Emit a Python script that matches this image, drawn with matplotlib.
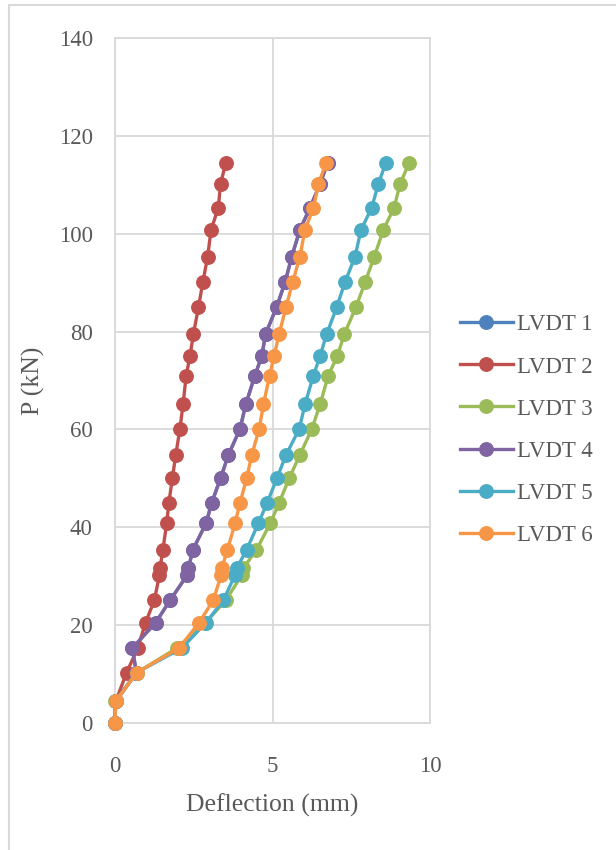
import matplotlib
matplotlib.use("Agg")
import matplotlib.pyplot as plt
from matplotlib.patches import Rectangle

load_kN = [0, 4.4, 10.3, 15.3, 20.5, 25.1, 30.2, 31.6, 35.4, 40.8, 45.0, 50.0, 54.8,
           60.1, 65.1, 71.0, 75.0, 79.5, 85.0, 90.1, 95.3, 100.8, 105.3, 110.2, 114.5]

lvdt1 = [0, 0.02, 0.68, 0.55, 1.29, 1.75, 2.29, 2.33, 2.47, 2.89, 3.07, 3.35, 3.60,
         3.97, 4.15, 4.44, 4.66, 4.78, 5.13, 5.40, 5.61, 5.87, 6.19, 6.51, 6.75]
lvdt2 = [0, 0.02, 0.37, 0.72, 0.97, 1.25, 1.41, 1.43, 1.52, 1.64, 1.71, 1.82, 1.93,
         2.06, 2.16, 2.26, 2.38, 2.49, 2.65, 2.79, 2.94, 3.05, 3.28, 3.35, 3.52]
lvdt3 = [0, 0.0, 0.69, 1.96, 2.87, 3.52, 4.02, 4.07, 4.49, 4.93, 5.21, 5.53, 5.87,
         6.25, 6.51, 6.77, 7.06, 7.28, 7.65, 7.94, 8.23, 8.52, 8.86, 9.05, 9.34]
lvdt4 = [0, 0.02, 0.68, 0.55, 1.29, 1.75, 2.29, 2.33, 2.47, 2.89, 3.07, 3.35, 3.60,
         3.97, 4.15, 4.44, 4.66, 4.78, 5.13, 5.40, 5.61, 5.87, 6.19, 6.51, 6.75]
lvdt5 = [0, 0.02, 0.69, 2.12, 2.89, 3.44, 3.81, 3.86, 4.18, 4.55, 4.83, 5.14, 5.43,
         5.85, 6.03, 6.30, 6.51, 6.72, 7.04, 7.30, 7.62, 7.81, 8.15, 8.36, 8.60]
lvdt6 = [0, 0.02, 0.69, 2.03, 2.67, 3.12, 3.37, 3.39, 3.57, 3.81, 3.97, 4.18, 4.34,
         4.58, 4.71, 4.91, 5.05, 5.21, 5.43, 5.64, 5.87, 6.03, 6.30, 6.46, 6.70]

series_names = ["LVDT 1", "LVDT 2", "LVDT 3", "LVDT 4", "LVDT 5", "LVDT 6"]
series_vals = [lvdt1, lvdt2, lvdt3, lvdt4, lvdt5, lvdt6]
colors = ["#4F81BD", "#C0504D", "#9BBB59", "#8064A2", "#4BACC6", "#F79646"]

x_ticks = [0, 5, 10]
y_ticks = [0, 20, 40, 60, 80, 100, 120, 140]

plt.rcParams['font.family'] = ['Liberation Serif', 'DejaVu Serif']
txt = "#595959"
grid_c = "#D9D9D9"
fs = 16.5
fs_title = 18.5

fig = plt.figure(figsize=(6.16, 8.5), dpi=100)
W, H = 616, 850
ax = fig.add_axes([115 / W, 1 - 723 / H, (430 - 115) / W, (723 - 38) / H])

for i, (name, vals, c) in enumerate(zip(series_names, series_vals, colors)):
    ax.plot(vals, load_kN, color=c, lw=2.4, marker='o', ms=9.7,
            markerfacecolor=c, markeredgecolor=c, label=name,
            clip_on=False, zorder=3 + i)

ax.set_xlim(0, 10)
ax.set_ylim(0, 140)
ax.set_xticks(x_ticks)
ax.set_yticks(y_ticks)
ax.grid(True, color=grid_c, lw=1.3)
ax.set_axisbelow(True)
for s in ax.spines.values():
    s.set_color(grid_c)
    s.set_linewidth(1.3)
ax.tick_params(length=0, labelsize=fs, colors=txt)
ax.tick_params(axis='y', pad=16)
ax.tick_params(axis='x', pad=24)
ax.set_xlabel("Deflection (mm)", fontsize=fs_title, color=txt)
ax.set_ylabel("P (kN)", fontsize=fs_title, color=txt)
ax.xaxis.set_label_coords(0.5, -(805 - 723) / (723 - 38), transform=ax.transAxes)
ax.yaxis.set_label_coords(-(115 - 33) / (430 - 115), 0.5, transform=ax.transAxes)
ax.xaxis.label.set_va('center')
ax.yaxis.label.set_va('center')

leg = ax.legend(loc='center left', bbox_to_anchor=(460 / W, 1 - 430 / H),
                bbox_transform=fig.transFigure, frameon=False, fontsize=fs,
                handlelength=2.3, handletextpad=0.2, labelspacing=0.915,
                borderpad=0, borderaxespad=0)
for t in leg.get_texts():
    t.set_color(txt)

fig.patches.append(Rectangle((9 / W, -0.1), 2, 1.1 - 4.5 / H,
                             transform=fig.transFigure, fill=False,
                             edgecolor=grid_c, lw=1.5))

fig.savefig("out.png", dpi=100, facecolor="white")
